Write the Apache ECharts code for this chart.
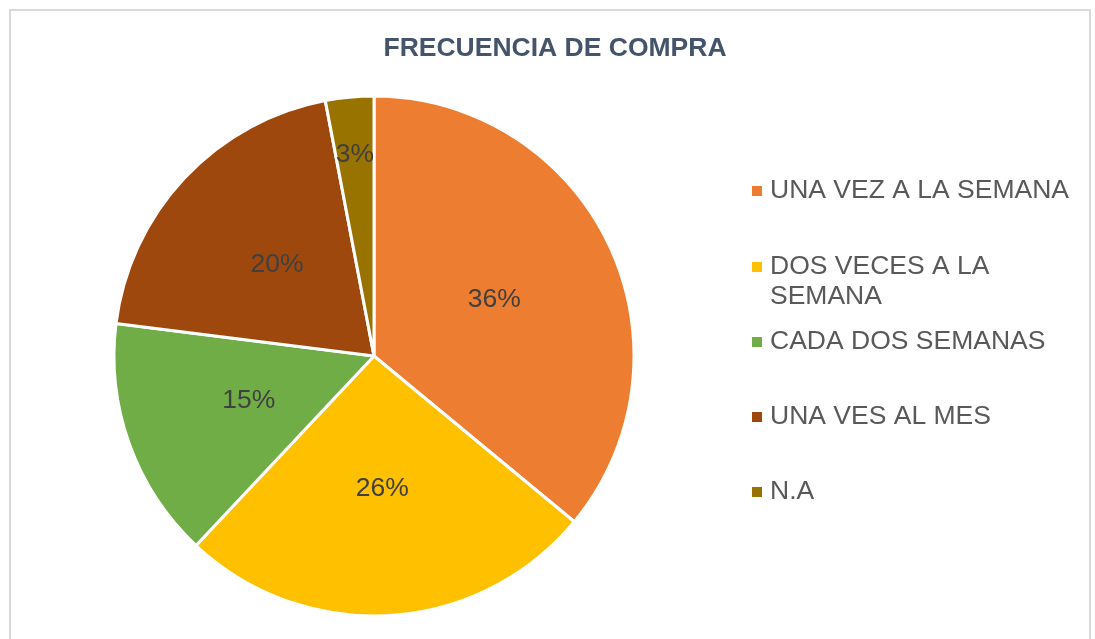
<!DOCTYPE html>
<html>
<head>
<meta charset="utf-8">
<title>FRECUENCIA DE COMPRA</title>
<script src="https://cdn.jsdelivr.net/npm/echarts@6/dist/echarts.min.js"></script>
<style>
  html, body { margin: 0; padding: 0; background: #ffffff; }
  #chart { width: 1095px; height: 639px; }
</style>
</head>
<body>
<div id="chart"></div>
<script>
// Purchase frequency shares (%)
const categories = ['UNA VEZ A LA SEMANA', 'DOS VECES A LA SEMANA', 'CADA DOS SEMANAS', 'UNA VES AL MES', 'N.A'];
const values = [36, 26, 15, 20, 3];
const colors = ['#ED7D31', '#FFC000', '#70AD47', '#9E480E', '#997300'];
// wrapped legend text: a blank first line keeps the marker beside the first text line
const legendLines = {
  'DOS VECES A LA SEMANA': ' \nDOS VECES A LA\nSEMANA'
};
// vertical centre of each legend marker
const legendCenters = [191, 267, 342, 417, 492];

const FONT = '"Liberation Sans", Arial, sans-serif';
const PIE_CENTER = [374, 356];
const PIE_RADIUS = 260;

const legends = categories.map(function (name, i) {
  const twoLine = !!legendLines[name];
  return {
    data: [name],
    left: 752,
    top: twoLine ? legendCenters[i] - 45 : legendCenters[i] - 15,
    orient: 'vertical',
    icon: 'rect',
    itemWidth: 10,
    itemHeight: 10,
    padding: 0,
    selectedMode: false,
    formatter: function (n) { return legendLines[n] || n; },
    itemStyle: { borderWidth: 0 },
    textStyle: {
      fontFamily: FONT,
      fontSize: 26.5,
      color: '#595959',
      lineHeight: 30,
      padding: [0, 0, 0, 3]
    }
  };
});

const chart = echarts.init(document.getElementById('chart'), null, { renderer: 'canvas' });
chart.setOption({
  backgroundColor: '#ffffff',
  animation: false,
  color: colors,
  title: {
    text: 'FRECUENCIA DE COMPRA',
    left: 555,
    textAlign: 'center',
    top: 35,
    padding: 0,
    textStyle: {
      fontFamily: FONT,
      fontSize: 26.5,
      fontWeight: 'bold',
      color: '#44546A'
    }
  },
  legend: legends,
  graphic: [{
    type: 'rect',
    silent: true,
    z: -1,
    shape: { x: 10, y: 10, width: 1080, height: 660 },
    style: { fill: null, stroke: '#D9D9D9', lineWidth: 2 }
  }],
  series: [{
    type: 'pie',
    center: PIE_CENTER,
    radius: [0, PIE_RADIUS],
    startAngle: 90,
    clockwise: true,
    avoidLabelOverlap: false,
    itemStyle: { borderColor: '#ffffff', borderWidth: 3 },
    label: {
      position: 'inside',
      formatter: '{c}%',
      fontFamily: FONT,
      fontSize: 26.5,
      color: '#404040'
    },
    labelLine: { show: false },
    emphasis: { disabled: true },
    data: categories.map(function (n, i) { return { name: n, value: values[i] }; }),
    // the narrow last slice carries its label further out along its mid-angle
    labelLayout: function (p) {
      if (p.dataIndex !== categories.length - 1) return {};
      const r = p.labelRect;
      const cx = r.x + r.width / 2;
      const cy = r.y + r.height / 2;
      const k = 1.52;
      return {
        x: PIE_CENTER[0] + (cx - PIE_CENTER[0]) * k,
        y: PIE_CENTER[1] + (cy - PIE_CENTER[1]) * k,
        align: 'center',
        verticalAlign: 'middle'
      };
    }
  }]
});
</script>
</body>
</html>
